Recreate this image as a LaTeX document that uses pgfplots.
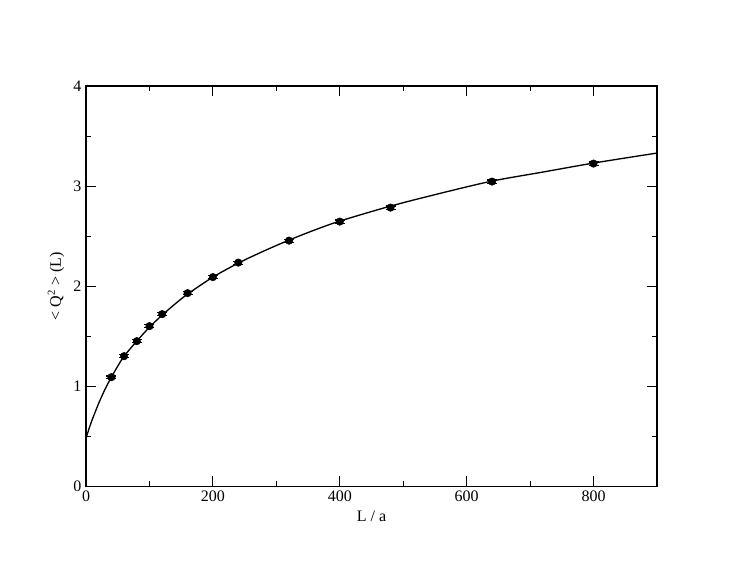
\documentclass[border=0pt]{standalone}
\usepackage{fontspec}
\setmainfont{Liberation Serif}
\usepackage{pgfplots}
\pgfplotsset{compat=1.18}

\begin{document}
\begin{tikzpicture}
\begin{axis}[
    name=ax,
    scale only axis,
    width=428pt, height=300pt,
    xmin=0, xmax=900,
    ymin=0, ymax=4,
    xtick={0,200,...,800},
    minor xtick={100,300,...,700},
    ytick={0,1,...,4},
    minor ytick={0.5,1.5,...,3.5},
    tick align=inside,
    major tick length=7.5pt,
    minor tick length=3.75pt,
    every tick/.style={black, line width=0.8pt},
    axis line style={line width=1pt},
    /pgf/number format/assume math mode=true,
    tick label style={font=\fontsize{12}{14}\selectfont},
    label style={font=\fontsize{12}{14}\selectfont},
    xlabel={L / a},
    ylabel={< Q\textsuperscript{2} > (L)},
]
% fitted curve
\addplot[black, line width=1pt, smooth] coordinates {
    (0,0.48) (5,0.58) (10,0.67) (15,0.75) (20,0.83) (30,0.97) (40,1.09)
    (50,1.20) (60,1.30) (80,1.45) (100,1.59) (120,1.71) (140,1.82)
    (160,1.92) (200,2.09) (240,2.23) (280,2.35) (320,2.46) (360,2.56)
    (400,2.65) (480,2.80) (560,2.93) (640,3.05) (720,3.14) (800,3.23)
    (900,3.33)
};
% lattice data
\addplot[black, only marks, mark=*, mark size=2.8pt,
    error bars/.cd, y dir=both, y explicit,
    error bar style={line width=0.8pt},
    error mark options={rotate=90, mark size=3.75pt, line width=0.8pt}]
    coordinates {
    (40,1.09) +- (0,0.012)
    (60,1.30) +- (0,0.012)
    (80,1.45) +- (0,0.012)
    (100,1.60) +- (0,0.014)
    (120,1.72) +- (0,0.014)
    (160,1.93) +- (0,0.014)
    (200,2.09) +- (0,0.015)
    (240,2.235) +- (0,0.015)
    (320,2.455) +- (0,0.015)
    (400,2.645) +- (0,0.016)
    (480,2.785) +- (0,0.016)
    (640,3.045) +- (0,0.016)
    (800,3.225) +- (0,0.016)
};
\end{axis}
\path[use as bounding box] ([shift={(-64.5pt,-64.5pt)}]ax.south west)
    rectangle ([shift={(62.25pt,64.5pt)}]ax.north east);
\end{tikzpicture}
\end{document}
